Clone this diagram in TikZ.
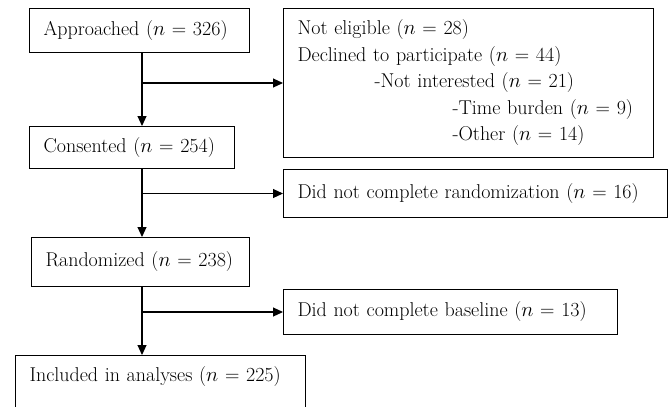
\documentclass[tikz,border=0pt]{standalone}
\usetikzlibrary{arrows.meta}
\begin{document}
\begin{tikzpicture}[x=1pt,y=-1pt,
    font=\fontsize{20}{26.5}\selectfont,
    box/.style={draw,line width=1pt,anchor=north west,inner xsep=14pt,inner ysep=0pt,align=left},
    flow/.style={line width=1.1pt,-{Triangle[length=10pt,width=9pt]}}]
    \useasboundingbox (0,0) rectangle (670,407);
    \clip (0,0) rectangle (670,407);
    % main column
    \node[box,text width=192pt,minimum height=44pt] (approached) at (29,8) {Approached ($n$ = 326)};
    \node[box,text width=177pt,minimum height=42pt] (consented) at (29,126) {Consented ($n$ = 254)};
    \node[box,text width=190pt,minimum height=49pt] (randomized) at (31,237) {Randomized ($n$ = 238)};
    \node[box,text width=262pt,inner ysep=11pt,text depth=40pt] (included) at (15,355) {Included in analyses ($n$ = 225)};
    % exclusions
    \node[box,text width=342pt,minimum height=149pt] (excluded) at (283,8) {Not eligible ($n$ = 28)\\
        Declined to participate ($n$ = 44)\\
        \hspace*{77pt}-Not interested ($n$ = 21)\\
        \hspace*{155pt}-Time burden ($n$ = 9)\\
        \hspace*{155pt}-Other ($n$ = 14)};
    \node[box,text width=356pt,minimum height=48pt] (norand) at (283,169) {Did not complete randomization ($n$ = 16)};
    \node[box,text width=306pt,minimum height=45pt] (nobase) at (283,289) {Did not complete baseline ($n$ = 13)};
    % arrows
    \coordinate (trunk) at (142,0);
    \draw[flow] (approached.south -| trunk) -- (consented.north -| trunk);
    \draw[flow] (consented.south -| trunk) -- (randomized.north -| trunk);
    \draw[flow] (randomized.south -| trunk) -- (included.north -| trunk);
    \draw[flow] (trunk |- excluded.west) -- (excluded.west);
    \draw[flow] (trunk |- norand.west) -- (norand.west);
    \draw[flow] (trunk |- nobase.west) -- (nobase.west);
\end{tikzpicture}
\end{document}
